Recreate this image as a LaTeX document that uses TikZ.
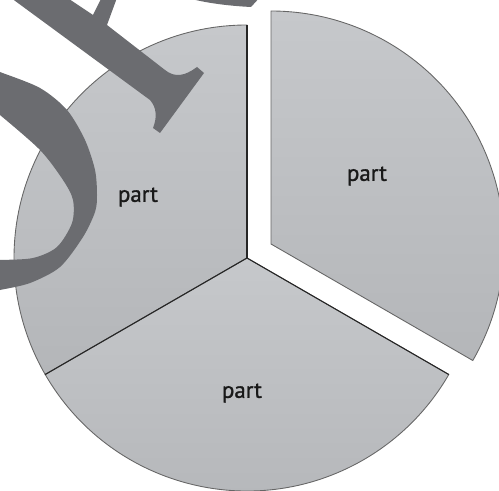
\documentclass[tikz,border=0pt]{standalone}
\usepackage{fontspec}
\setmainfont{PT Sans}
\newfontfamily\partfont{PT Sans}[FakeBold=1.2]
\definecolor{pietop}{HTML}{C6C8CB}
\definecolor{piebottom}{HTML}{B4B6B9}
\definecolor{glyphgray}{HTML}{6B6C70}
\begin{document}
\begin{tikzpicture}[
			x=0.02cm, y=0.02cm,
			slice/.style={draw=black!60, line width=0.5pt, top color=pietop, bottom color=piebottom},
			cut/.style={draw=black!85, line width=0.6pt},
			partlabel/.style={font=\partfont\fontsize{13}{15}\selectfont, text=black!90},
			glyph/.style={fill=glyphgray, draw=none}
		]
			\clip (0,0) rectangle (499,490);
			% 饼图：三等分，右上块移出
			\coordinate (c) at (247,232);
			\coordinate (e) at (271,246);
			\path[slice] (c) -- ++(90:233) arc[start angle=90, end angle=210, radius=233] -- cycle;
			\path[slice] (c) -- ++(210:233) arc[start angle=210, end angle=330, radius=233] -- cycle;
			\path[slice] (e) -- ++(-30:233) arc[start angle=-30, end angle=90, radius=233] -- cycle;
			\draw[cut] (c) -- ++(90:233);
			\draw[cut] (c) -- ++(210:233);
			\draw[cut] (c) -- ++(330:233);

			\node[partlabel] (lbl-left) at (138,293) {part};
			\node[partlabel] (lbl-right) at (367,314) {part};
			\node[partlabel] (lbl-bottom) at (242,97) {part};

			% 覆盖在上面的大字形笔画
			\fill[glyph] (7,495) -- (63,495) -- (93,475) -- (103,495) -- (118,495) -- (107,465)
				-- (165,420) .. controls (175,412) and (185,414) .. (197,423)
				-- (204,417) -- (160,357) -- (153,362)
				.. controls (157,372) and (157,382) .. (150,390) -- cycle;
			\fill[glyph] (188,495) -- (262,495) -- (251,483)
				.. controls (230,484) and (205,487) .. (188,492) -- cycle;
			\fill[glyph] plot[smooth] coordinates {(-5,420) (0,418) (40,402) (67,380) (85,350) (95,320) (97,295) (95,278) (83,253) (60,223) (30,207) (0,200) (-5,199)}
				-- plot[smooth] coordinates {(-5,230) (0,230) (33,232) (57,243) (72,267) (73,290) (63,310) (40,340) (0,375) (-5,378)}
				-- cycle;
		\end{tikzpicture}
\end{document}
